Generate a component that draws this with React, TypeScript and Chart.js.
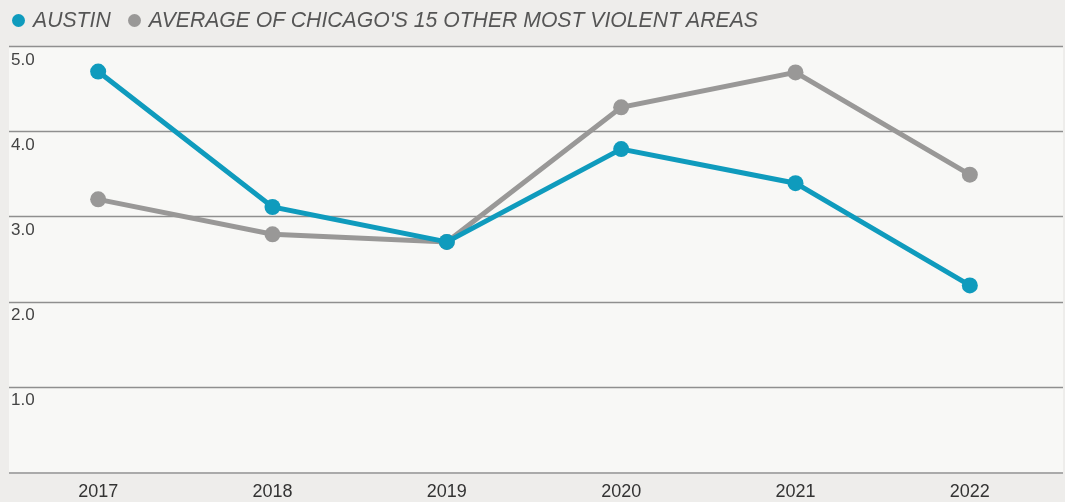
import React, { useEffect, useRef } from "react";
import { Chart, registerables } from "chart.js";

Chart.register(...registerables);

const years = ["2017", "2018", "2019", "2020", "2021", "2022"];
const austin = [4.7, 3.11, 2.7, 3.79, 3.39, 2.19];
const otherAreas = [3.2, 2.79, 2.7, 4.28, 4.69, 3.49];
const seriesNames = ["AUSTIN", "AVERAGE OF CHICAGO'S 15 OTHER MOST VIOLENT AREAS"];
const seriesColors = ["#0f9bbd", "#999897"];

const FONT = "'Liberation Sans', Arial, sans-serif";
const PLOT_LEFT = 9;
const PLOT_RIGHT = 1063;

const bgPlugin = {
  id: "plotBg",
  beforeDraw(chart: any) {
    const { ctx, chartArea } = chart;
    ctx.save();
    ctx.fillStyle = "#eeedeb";
    ctx.fillRect(0, 0, chart.width, chart.height);
    ctx.fillStyle = "#f8f8f6";
    ctx.fillRect(PLOT_LEFT, chartArea.top, PLOT_RIGHT - PLOT_LEFT, chartArea.bottom - chartArea.top);
    const y = chart.scales.y;
    y.ticks.forEach((t: any) => {
      if (t.value === 0) return;
      const py = Math.round(y.getPixelForValue(t.value)) + 0.5;
      ctx.strokeStyle = "#8f8f8f";
      ctx.lineWidth = 1.3;
      ctx.beginPath();
      ctx.moveTo(PLOT_LEFT, py);
      ctx.lineTo(PLOT_RIGHT, py);
      ctx.stroke();
    });
    ctx.strokeStyle = "#aaaaaa";
    ctx.lineWidth = 2;
    ctx.beginPath();
    ctx.moveTo(PLOT_LEFT, chartArea.bottom + 1);
    ctx.lineTo(PLOT_RIGHT, chartArea.bottom + 1);
    ctx.stroke();
    ctx.restore();
  },
};

export default function App() {
  const ref = useRef<HTMLCanvasElement>(null);
  useEffect(() => {
    const chart = new Chart(ref.current!, {
      type: "line",
      data: {
        labels: years,
        datasets: [
          {
            label: seriesNames[0],
            data: austin,
            borderColor: seriesColors[0],
            backgroundColor: seriesColors[0],
            borderWidth: 5,
            pointRadius: 8,
            pointHoverRadius: 8,
            pointBorderWidth: 0,
            order: 0,
          },
          {
            label: seriesNames[1],
            data: otherAreas,
            borderColor: seriesColors[1],
            backgroundColor: seriesColors[1],
            borderWidth: 5,
            pointRadius: 8,
            pointHoverRadius: 8,
            pointBorderWidth: 0,
            order: 1,
          },
        ],
      },
      options: {
        responsive: false,
        animation: false,
        layout: { padding: { left: 11, right: 4, top: 46, bottom: 0 } },
        plugins: {
          tooltip: { enabled: false },
          legend: { display: false },
        },
        scales: {
          x: {
            offset: true,
            afterFit: (axis: any) => {
              axis.height = 30;
            },
            grid: { display: false, drawTicks: false },
            border: { display: false },
            ticks: { color: "#333", font: { family: FONT, size: 18 }, padding: 9 },
          },
          y: {
            min: 0,
            max: 5,
            grid: { display: false, drawTicks: false },
            border: { display: false },
            ticks: {
              stepSize: 1,
              mirror: true,
              padding: 0,
              labelOffset: 14,
              color: "#444",
              font: { family: FONT, size: 17 },
              callback: (v: any) => (v === 0 ? "" : Number(v).toFixed(1)),
            },
          },
        },
      },
      plugins: [bgPlugin],
    });
    return () => chart.destroy();
  }, []);
  return (
    <div style={{ position: "absolute", left: 0, top: 0, width: 1065, height: 502 }}>
      <canvas ref={ref} width={1065} height={502} />
      <div
        style={{
          position: "absolute",
          left: 12,
          top: 8,
          height: 24,
          display: "flex",
          alignItems: "center",
          fontFamily: FONT,
          fontStyle: "italic",
          fontSize: 21.2,
          color: "#555",
          whiteSpace: "nowrap",
        }}
      >
        {seriesNames.map((name, i) => (
          <span key={name} style={{ display: "flex", alignItems: "center", marginRight: 17 }}>
            <span
              style={{
                display: "inline-block",
                width: 13,
                height: 13,
                borderRadius: "50%",
                background: seriesColors[i],
                marginRight: 8,
              }}
            />
            <span>{name}</span>
          </span>
        ))}
      </div>
    </div>
  );
}
